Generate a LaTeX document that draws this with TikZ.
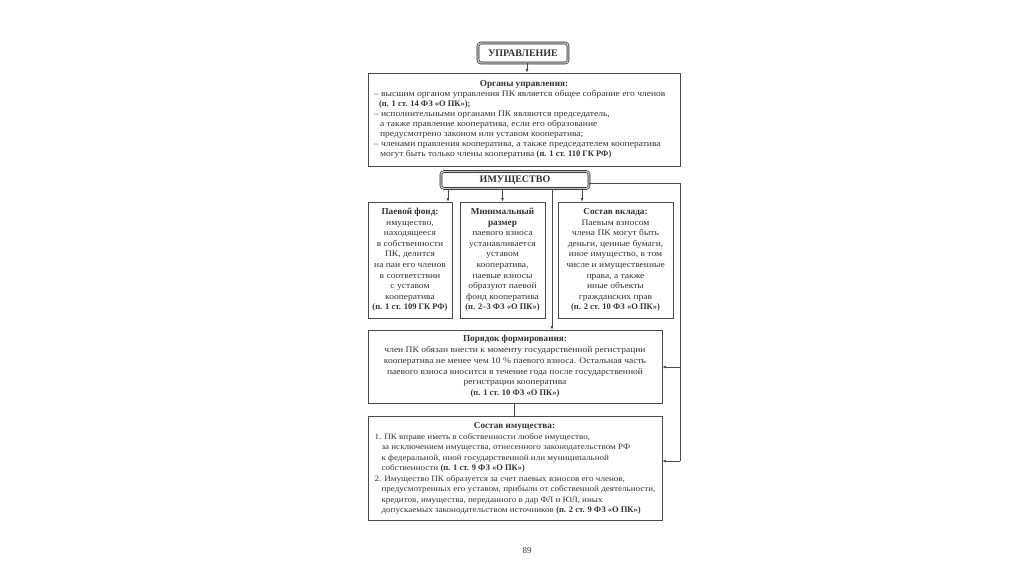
\documentclass[tikz,border=0pt]{standalone}
\usepackage{fontspec}
\setmainfont{Liberation Serif}
\newfontfamily\bodyfont[FakeStretch=1.12]{Liberation Serif}
\usetikzlibrary{arrows.meta,calc}
\definecolor{ink}{HTML}{333333}
\definecolor{edge}{HTML}{4A4A4A}
\newcommand\B[1]{{\normalfont\bfseries\fontsize{8.5}{10}\selectfont #1}}
\newcommand\T[1]{{\normalfont\bfseries\fontsize{9.2}{10}\selectfont #1}}
\begin{document}
\begin{tikzpicture}[x=1pt,y=-1pt,
  every node/.style={text=ink},
  box/.style={draw=edge, line width=0.8pt, fill=white, inner sep=0pt},
  headbox/.style={draw=black!85, double=gray!45, double distance=1.4pt, line width=0.6pt, rounded corners=3pt, fill=white, inner sep=0pt, font=\fontsize{10}{11}\selectfont\bfseries},
  con/.style={draw=edge, line width=0.8pt},
  arr/.style={con, -{Latex[length=3.5pt,width=3pt]}}
]
\useasboundingbox (0,0) rectangle (1024,574);
\fill[white] (0,0) rectangle (1024,574);

% header boxes
\node[headbox, minimum width=90, minimum height=20] (upr) at (523,53) {УПРАВЛЕНИЕ};
\node[box, minimum width=312, minimum height=93, align=left, font=\bodyfont\fontsize{8.5}{10}\selectfont] (org) at (524,119.5) {%
\makebox[300pt][c]{\T{Органы управления:}}\\
– высшим органом управления ПК является общее собрание его членов\\
\hspace*{5pt}\B{(п. 1 ст. 14 ФЗ «О ПК»);}\\
– исполнительными органами ПК являются председатель,\\
\hspace*{6pt}а также правление кооператива, если его образование\\
\hspace*{6pt}предусмотрено законом или уставом кооператива;\\
– членами правления кооператива, а также председателем кооператива\\
\hspace*{6pt}могут быть только члены кооператива \B{(п. 1 ст. 110 ГК РФ)}};

\node[headbox, minimum width=148, minimum height=17] (ims) at (515,180) {ИМУЩЕСТВО};

% three boxes
\node[box, minimum width=84, minimum height=116, align=center, font=\bodyfont\fontsize{8.5}{10.6}\selectfont] (b1) at (410,260) {%
\T{Паевой фонд:}\\имущество,\\находящееся\\в собственности\\ПК, делится\\на паи его членов\\в соответствии\\с уставом\\кооператива\\\B{(п. 1 ст. 109 ГК РФ)}};
\node[box, minimum width=85, minimum height=116, align=center, font=\bodyfont\fontsize{8.5}{10.6}\selectfont] (b2) at (502.5,260) {%
\T{Минимальный}\\\T{размер}\\паевого взноса\\устанавливается\\уставом\\кооператива,\\паевые взносы\\образуют паевой\\фонд кооператива\\\B{(п. 2–3 ФЗ «О ПК»)}};
\node[box, minimum width=115, minimum height=116, align=center, font=\bodyfont\fontsize{8.5}{10.6}\selectfont] (b3) at (615.5,260) {%
\T{Состав вклада:}\\Паевым взносом\\члена ПК могут быть\\деньги, ценные бумаги,\\иное имущество, в том\\числе и имущественные\\права, а также\\иные объекты\\гражданских прав\\\B{(п. 2 ст. 10 ФЗ «О ПК»)}};

% order box
\node[box, minimum width=294, minimum height=73, align=center, font=\bodyfont\fontsize{8.5}{10.8}\selectfont] (por) at (515,366.5) {%
\T{Порядок формирования:}\\
член ПК обязан внести к моменту государственной регистрации\\
кооператива не менее чем 10 \% паевого взноса. Остальная часть\\
паевого взноса вносится в течение года после государственной\\
регистрации кооператива\\
\B{(п. 1 ст. 10 ФЗ «О ПК»)}};

% composition box
\node[box, minimum width=294, minimum height=104, align=left, font=\bodyfont\fontsize{8.1}{10.5}\selectfont] (sos) at (515,468.5) {%
\makebox[280pt][c]{\T{Состав имущества:}}\\
1. ПК вправе иметь в собственности любое имущество,\\
\hspace*{7pt}за исключением имущества, отнесенного законодательством РФ\\
\hspace*{7pt}к федеральной, иной государственной или муниципальной\\
\hspace*{7pt}собственности \B{(п. 1 ст. 9 ФЗ «О ПК»)}\\
2. Имущество ПК образуется за счет паевых взносов его членов,\\
\hspace*{7pt}предусмотренных его уставом, прибыли от собственной деятельности,\\
\hspace*{7pt}кредитов, имущества, переданного в дар ФЛ и ЮЛ, иных\\
\hspace*{7pt}допускаемых законодательством источников \B{(п. 2 ст. 9 ФЗ «О ПК»)}};

\node[font=\fontsize{9}{10}\selectfont] (pg) at (527,551) {89};

% helper coordinates
\coordinate (xA) at (448,0);
\coordinate (xC) at (582,0);
\coordinate (xV) at (552,0);
\coordinate (xR) at (680,0);
\coordinate (xS) at (514,0);
\coordinate (yE) at (0,183);
\coordinate (yP) at (0,367);
\coordinate (yS) at (0,461);

% connectors
\draw[arr] (upr.south -| 527,0) -- (org.north -| 527,0);
\draw[arr] (ims.south -| xA) -- (b1.north -| xA);
\draw[arr] (ims.south -| b2.north) -- (b2.north);
\draw[arr] (ims.south -| xC) -- (b3.north -| xC);
\draw[arr] (ims.south -| xV) -- (por.north -| xV);
\draw[con] (ims.east |- yE) -- (xR |- yE) -- (xR |- yS);
\draw[arr] (xR |- yP) -- (por.east |- yP);
\draw[arr] (xR |- yS) -- (sos.east |- yS);
\draw[con] (por.south -| xS) -- (sos.north -| xS);
\end{tikzpicture}
\end{document}
